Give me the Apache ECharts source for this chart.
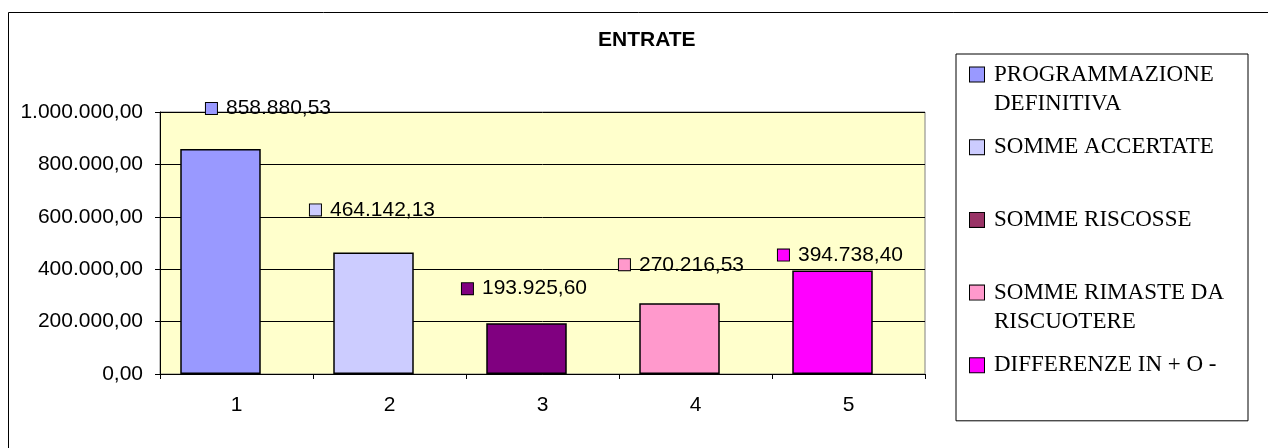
<!DOCTYPE html>
<html>
<head>
<meta charset="utf-8">
<script src="https://cdn.jsdelivr.net/npm/echarts@6/dist/echarts.min.js"></script>
<style>
  html, body { margin: 0; padding: 0; background: #fff; }
  #chart { width: 1268px; height: 448px; }
</style>
</head>
<body>
<div id="chart"></div>
<script>
// ---- data ----
const categories = ['1', '2', '3', '4', '5'];
const seriesNames = [
  'PROGRAMMAZIONE DEFINITIVA',
  'SOMME ACCERTATE',
  'SOMME RISCOSSE',
  'SOMME RIMASTE DA RISCUOTERE',
  'DIFFERENZE IN + O -'
];
const legendLines = [
  ['PROGRAMMAZIONE', 'DEFINITIVA'],
  ['SOMME ACCERTATE'],
  ['SOMME RISCOSSE'],
  ['SOMME RIMASTE DA', 'RISCUOTERE'],
  ['DIFFERENZE IN + O -']
];
const values = [858880.53, 464142.13, 193925.60, 270216.53, 394738.40];
const yTicks = { min: 0, max: 1000000, interval: 200000 };
const chartTitle = 'ENTRATE';

// ---- styles ----
const barColors = ['#9999FF', '#CCCCFF', '#800080', '#FF99CC', '#FF00FF'];
const legendKeyColors = ['#9999FF', '#CCCCFF', '#993366', '#FF99CC', '#FF00FF'];
const labelShift = [[48, -24], [-1, -26], [-2, -18], [2, -22], [8, 1]];

function fmtIt(v) {
  const parts = Number(v).toFixed(2).split('.');
  const intPart = parts[0].replace(/\B(?=(\d{3})+(?!\d))/g, '.');
  return intPart + ',' + parts[1];
}

const sans = 'Liberation Sans, Arial, sans-serif';
const serif = 'Liberation Serif, Times New Roman, serif';

const legendRich = {
  s: { width: 14, height: 14, lineHeight: 29 },
  t: { fontFamily: serif, fontSize: 23, color: '#000', lineHeight: 29, padding: [0, 0, 0, 10], width: 249 }
};
legendKeyColors.forEach((c, i) => {
  legendRich['k' + i] = { width: 14, height: 14, lineHeight: 29, backgroundColor: c, borderColor: '#000', borderWidth: 1 };
});

const series = seriesNames.map((name, i) => {
  const data = categories.map((c, j) => (j === i ? values[i] : null));
  return {
    name: name,
    type: 'bar',
    stack: 'main',
    barWidth: 80.5,
    data: data,
    itemStyle: { color: barColors[i], borderColor: '#000', borderWidth: 1.5 },
    label: {
      show: true,
      position: 'top',
      distance: 5,
      offset: labelShift[i],
      formatter: p => '{k|}{v|' + fmtIt(p.value) + '}',
      rich: {
        k: { width: 11, height: 11, backgroundColor: barColors[i], borderColor: '#000', borderWidth: 1 },
        v: { fontFamily: sans, fontSize: 21, color: '#000', padding: [0, 0, 0, 9], lineHeight: 23 }
      }
    },
    emphasis: { disabled: true }
  };
});
// empty spacer slot (no data) reproducing the original's left-shifted bars
series.push({ name: '_pad', type: 'bar', stack: 'pad', barWidth: 32, barGap: '0%', data: [], silent: true });

const chart = echarts.init(document.getElementById('chart'));
chart.setOption({
  animation: false,
  backgroundColor: '#ffffff',
  title: {
    text: chartTitle,
    left: 598,
    top: 30,
    padding: 0,
    textStyle: { fontFamily: sans, fontSize: 21, fontWeight: 'bold', color: '#000' }
  },
  graphic: [{
    type: 'rect',
    shape: { x: 8.5, y: 12.5, width: 1300, height: 500 },
    style: { fill: 'none', stroke: '#000', lineWidth: 1 },
    silent: true,
    z: -1
  }],
  legend: {
    data: seriesNames,
    orient: 'vertical',
    left: 956,
    top: 54,
    padding: [9, 5, 15, 8],
    itemGap: 20.7,
    itemWidth: 0,
    itemHeight: 0,
    icon: 'rect',
    borderColor: '#000',
    borderWidth: 1,
    selectedMode: false,
    formatter: function (name) {
      const i = seriesNames.indexOf(name);
      const lines = legendLines[i];
      const l1 = '{k' + i + '|}{t|' + lines[0] + '}';
      const l2 = '{s|}{t|' + (lines[1] || ' ') + '}';
      return l1 + '\n' + l2;
    },
    textStyle: { rich: legendRich, padding: 0 }
  },
  grid: {
    left: 160, top: 112, right: 343, bottom: 74,
    show: true,
    backgroundColor: '#FFFFCC',
    borderColor: '#808080',
    borderWidth: 1
  },
  xAxis: {
    type: 'category',
    data: categories,
    boundaryGap: true,
    axisLine: { lineStyle: { color: '#000', width: 1 } },
    axisTick: { show: true, length: 5, lineStyle: { color: '#000' } },
    axisLabel: { margin: 21, fontFamily: sans, fontSize: 21, color: '#000' },
    splitLine: { show: false }
  },
  yAxis: {
    type: 'value',
    min: yTicks.min,
    max: yTicks.max,
    interval: yTicks.interval,
    axisLine: { show: true, lineStyle: { color: '#000', width: 1 } },
    axisTick: { show: true, length: 5, lineStyle: { color: '#000' } },
    axisLabel: { margin: 17, fontFamily: sans, fontSize: 21, color: '#000', formatter: v => fmtIt(v) },
    splitLine: { show: true, lineStyle: { color: '#000', width: 1 } }
  },
  series: series
});
</script>
</body>
</html>
